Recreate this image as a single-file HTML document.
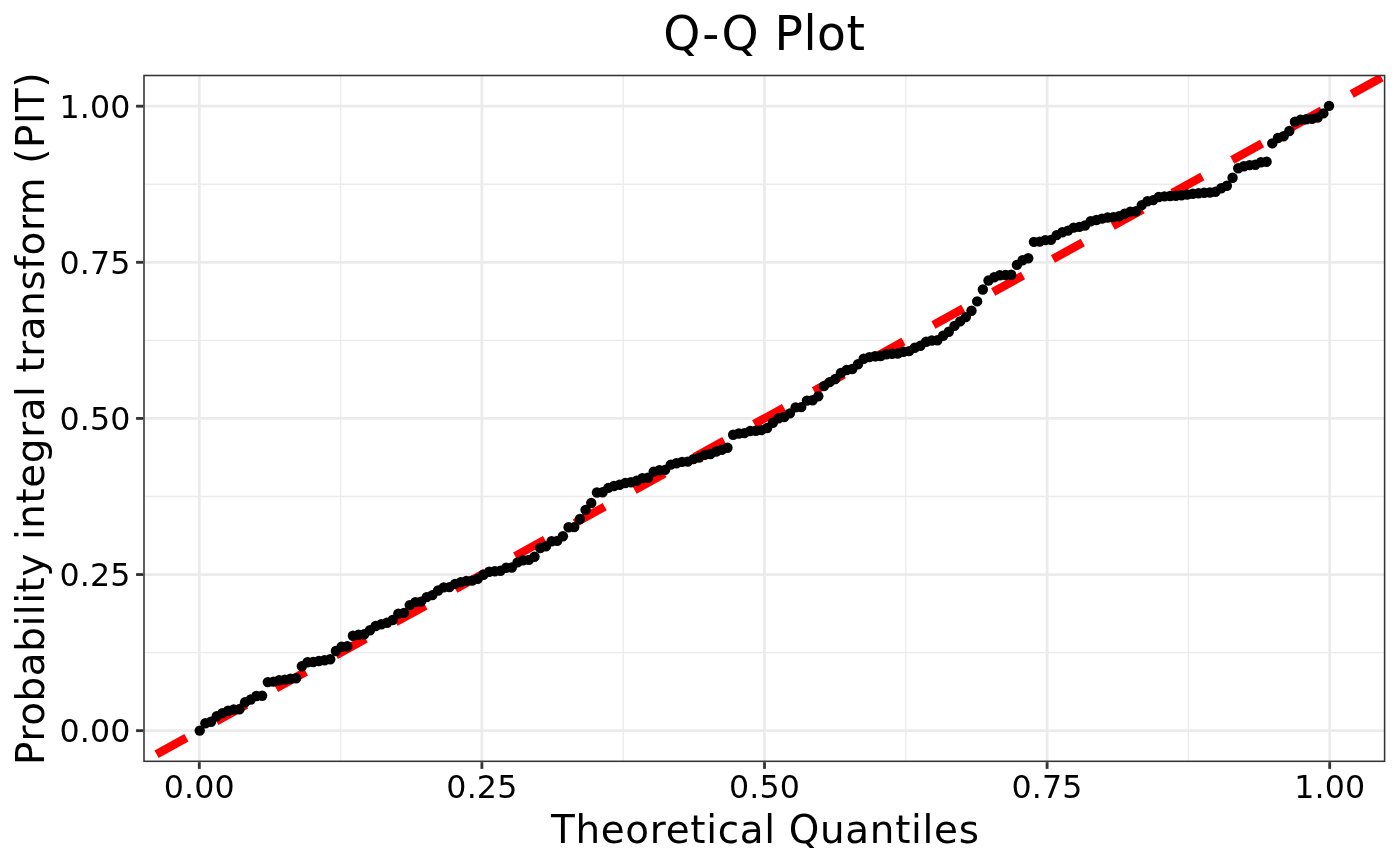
<!DOCTYPE html>
<html lang="en">
<head>
<meta charset="utf-8">
<title>Q-Q Plot</title>
<style>
html,body{margin:0;padding:0;background:#fff;}
body{width:1400px;height:866px;overflow:hidden;}
svg{display:block;}
text{font-family:"DejaVu Sans", "Liberation Sans", sans-serif;fill:#000;}
.tick{font-size:31.7px;letter-spacing:0.13px;}
.axt{font-size:38.9px;}
.ttl{font-size:47.2px;letter-spacing:0.49px;}
.xt{letter-spacing:0.675px;}
.yt{letter-spacing:0.577px;}
</style>
</head>
<body>
<svg width="1400" height="866" viewBox="0 0 1400 866">
<rect x="0" y="0" width="1400" height="866" fill="#ffffff"/>
<defs><clipPath id="panel"><rect x="144.00" y="75.50" width="1240.60" height="685.80"/></clipPath></defs>
<g clip-path="url(#panel)">
<g stroke="#ebebeb" stroke-width="1.3" fill="none">
<line x1="340.60" y1="75.50" x2="340.60" y2="761.30"/>
<line x1="144.00" y1="652.59" x2="1384.60" y2="652.59"/>
<line x1="623.20" y1="75.50" x2="623.20" y2="761.30"/>
<line x1="144.00" y1="496.48" x2="1384.60" y2="496.48"/>
<line x1="905.80" y1="75.50" x2="905.80" y2="761.30"/>
<line x1="144.00" y1="340.37" x2="1384.60" y2="340.37"/>
<line x1="1188.40" y1="75.50" x2="1188.40" y2="761.30"/>
<line x1="144.00" y1="184.26" x2="1384.60" y2="184.26"/>
</g>
<g stroke="#ebebeb" stroke-width="2.75" fill="none">
<line x1="199.30" y1="75.50" x2="199.30" y2="761.30"/>
<line x1="144.00" y1="730.65" x2="1384.60" y2="730.65"/>
<line x1="481.90" y1="75.50" x2="481.90" y2="761.30"/>
<line x1="144.00" y1="574.54" x2="1384.60" y2="574.54"/>
<line x1="764.50" y1="75.50" x2="764.50" y2="761.30"/>
<line x1="144.00" y1="418.43" x2="1384.60" y2="418.43"/>
<line x1="1047.10" y1="75.50" x2="1047.10" y2="761.30"/>
<line x1="144.00" y1="262.31" x2="1384.60" y2="262.31"/>
<line x1="1329.70" y1="75.50" x2="1329.70" y2="761.30"/>
<line x1="144.00" y1="106.20" x2="1384.60" y2="106.20"/>
</g>
<line x1="156.57" y1="754.20" x2="1400.00" y2="67.31" stroke="#ff0000" stroke-width="8.5" stroke-dasharray="34.1 34.17" fill="none"/>
<g fill="#000000">
<circle cx="199.70" cy="730.6" r="5.2"/>
<circle cx="205.38" cy="723.3" r="5.2"/>
<circle cx="211.05" cy="721.8" r="5.2"/>
<circle cx="216.72" cy="716.3" r="5.2"/>
<circle cx="222.40" cy="713.1" r="5.2"/>
<circle cx="228.07" cy="710.7" r="5.2"/>
<circle cx="233.75" cy="709.5" r="5.2"/>
<circle cx="239.42" cy="709.3" r="5.2"/>
<circle cx="245.10" cy="702.2" r="5.2"/>
<circle cx="250.77" cy="699.5" r="5.2"/>
<circle cx="256.45" cy="696.0" r="5.2"/>
<circle cx="262.12" cy="695.8" r="5.2"/>
<circle cx="267.80" cy="682.1" r="5.2"/>
<circle cx="273.47" cy="681.6" r="5.2"/>
<circle cx="279.15" cy="680.3" r="5.2"/>
<circle cx="284.82" cy="679.6" r="5.2"/>
<circle cx="290.50" cy="678.8" r="5.2"/>
<circle cx="296.17" cy="678.3" r="5.2"/>
<circle cx="301.85" cy="666.3" r="5.2"/>
<circle cx="307.52" cy="662.3" r="5.2"/>
<circle cx="313.20" cy="662.0" r="5.2"/>
<circle cx="318.88" cy="661.0" r="5.2"/>
<circle cx="324.55" cy="660.2" r="5.2"/>
<circle cx="330.23" cy="659.3" r="5.2"/>
<circle cx="335.90" cy="651.0" r="5.2"/>
<circle cx="341.57" cy="646.8" r="5.2"/>
<circle cx="347.25" cy="646.3" r="5.2"/>
<circle cx="352.92" cy="635.7" r="5.2"/>
<circle cx="358.60" cy="634.7" r="5.2"/>
<circle cx="364.27" cy="634.2" r="5.2"/>
<circle cx="369.95" cy="630.2" r="5.2"/>
<circle cx="375.62" cy="626.0" r="5.2"/>
<circle cx="381.30" cy="624.2" r="5.2"/>
<circle cx="386.98" cy="622.7" r="5.2"/>
<circle cx="392.65" cy="620.0" r="5.2"/>
<circle cx="398.32" cy="613.6" r="5.2"/>
<circle cx="404.00" cy="612.9" r="5.2"/>
<circle cx="409.67" cy="605.1" r="5.2"/>
<circle cx="415.35" cy="602.1" r="5.2"/>
<circle cx="421.02" cy="601.6" r="5.2"/>
<circle cx="426.70" cy="597.1" r="5.2"/>
<circle cx="432.38" cy="595.1" r="5.2"/>
<circle cx="438.05" cy="590.5" r="5.2"/>
<circle cx="443.73" cy="587.4" r="5.2"/>
<circle cx="449.40" cy="587.1" r="5.2"/>
<circle cx="455.07" cy="583.9" r="5.2"/>
<circle cx="460.75" cy="582.1" r="5.2"/>
<circle cx="466.42" cy="580.9" r="5.2"/>
<circle cx="472.10" cy="580.6" r="5.2"/>
<circle cx="477.77" cy="578.8" r="5.2"/>
<circle cx="483.45" cy="574.8" r="5.2"/>
<circle cx="489.12" cy="571.8" r="5.2"/>
<circle cx="494.80" cy="571.3" r="5.2"/>
<circle cx="500.47" cy="570.8" r="5.2"/>
<circle cx="506.15" cy="567.8" r="5.2"/>
<circle cx="511.82" cy="567.5" r="5.2"/>
<circle cx="517.50" cy="562.4" r="5.2"/>
<circle cx="523.17" cy="560.2" r="5.2"/>
<circle cx="528.85" cy="559.9" r="5.2"/>
<circle cx="534.52" cy="556.7" r="5.2"/>
<circle cx="540.20" cy="548.0" r="5.2"/>
<circle cx="545.88" cy="546.4" r="5.2"/>
<circle cx="551.55" cy="541.2" r="5.2"/>
<circle cx="557.22" cy="540.9" r="5.2"/>
<circle cx="562.90" cy="536.3" r="5.2"/>
<circle cx="568.58" cy="527.3" r="5.2"/>
<circle cx="574.25" cy="527.1" r="5.2"/>
<circle cx="579.92" cy="519.0" r="5.2"/>
<circle cx="585.60" cy="509.9" r="5.2"/>
<circle cx="591.27" cy="503.0" r="5.2"/>
<circle cx="596.95" cy="492.5" r="5.2"/>
<circle cx="602.62" cy="492.2" r="5.2"/>
<circle cx="608.30" cy="487.9" r="5.2"/>
<circle cx="613.97" cy="486.0" r="5.2"/>
<circle cx="619.65" cy="484.7" r="5.2"/>
<circle cx="625.33" cy="483.0" r="5.2"/>
<circle cx="631.00" cy="482.2" r="5.2"/>
<circle cx="636.67" cy="480.7" r="5.2"/>
<circle cx="642.35" cy="478.1" r="5.2"/>
<circle cx="648.02" cy="477.8" r="5.2"/>
<circle cx="653.70" cy="471.6" r="5.2"/>
<circle cx="659.38" cy="470.2" r="5.2"/>
<circle cx="665.05" cy="469.9" r="5.2"/>
<circle cx="670.72" cy="464.6" r="5.2"/>
<circle cx="676.40" cy="463.3" r="5.2"/>
<circle cx="682.08" cy="461.9" r="5.2"/>
<circle cx="687.75" cy="461.6" r="5.2"/>
<circle cx="693.42" cy="459.1" r="5.2"/>
<circle cx="699.10" cy="457.6" r="5.2"/>
<circle cx="704.77" cy="454.9" r="5.2"/>
<circle cx="710.45" cy="454.0" r="5.2"/>
<circle cx="716.12" cy="451.5" r="5.2"/>
<circle cx="721.80" cy="449.8" r="5.2"/>
<circle cx="727.47" cy="447.8" r="5.2"/>
<circle cx="733.15" cy="434.8" r="5.2"/>
<circle cx="738.83" cy="433.5" r="5.2"/>
<circle cx="744.50" cy="433.1" r="5.2"/>
<circle cx="750.17" cy="431.0" r="5.2"/>
<circle cx="755.85" cy="430.7" r="5.2"/>
<circle cx="761.52" cy="430.1" r="5.2"/>
<circle cx="767.20" cy="428.0" r="5.2"/>
<circle cx="772.88" cy="422.7" r="5.2"/>
<circle cx="778.55" cy="418.2" r="5.2"/>
<circle cx="784.22" cy="417.0" r="5.2"/>
<circle cx="789.90" cy="413.4" r="5.2"/>
<circle cx="795.58" cy="407.4" r="5.2"/>
<circle cx="801.25" cy="407.1" r="5.2"/>
<circle cx="806.92" cy="400.6" r="5.2"/>
<circle cx="812.60" cy="400.3" r="5.2"/>
<circle cx="818.27" cy="396.3" r="5.2"/>
<circle cx="823.95" cy="386.1" r="5.2"/>
<circle cx="829.62" cy="382.1" r="5.2"/>
<circle cx="835.30" cy="379.0" r="5.2"/>
<circle cx="840.97" cy="373.0" r="5.2"/>
<circle cx="846.65" cy="370.0" r="5.2"/>
<circle cx="852.33" cy="369.0" r="5.2"/>
<circle cx="858.00" cy="364.3" r="5.2"/>
<circle cx="863.67" cy="358.8" r="5.2"/>
<circle cx="869.35" cy="357.1" r="5.2"/>
<circle cx="875.02" cy="356.3" r="5.2"/>
<circle cx="880.70" cy="356.0" r="5.2"/>
<circle cx="886.38" cy="354.3" r="5.2"/>
<circle cx="892.05" cy="353.8" r="5.2"/>
<circle cx="897.72" cy="353.5" r="5.2"/>
<circle cx="903.40" cy="351.8" r="5.2"/>
<circle cx="909.08" cy="351.1" r="5.2"/>
<circle cx="914.75" cy="347.7" r="5.2"/>
<circle cx="920.42" cy="345.7" r="5.2"/>
<circle cx="926.10" cy="341.7" r="5.2"/>
<circle cx="931.77" cy="340.5" r="5.2"/>
<circle cx="937.45" cy="340.2" r="5.2"/>
<circle cx="943.12" cy="335.7" r="5.2"/>
<circle cx="948.80" cy="331.7" r="5.2"/>
<circle cx="954.47" cy="325.9" r="5.2"/>
<circle cx="960.15" cy="321.4" r="5.2"/>
<circle cx="965.83" cy="317.1" r="5.2"/>
<circle cx="971.50" cy="310.8" r="5.2"/>
<circle cx="977.17" cy="301.4" r="5.2"/>
<circle cx="982.85" cy="289.5" r="5.2"/>
<circle cx="988.52" cy="280.5" r="5.2"/>
<circle cx="994.20" cy="277.3" r="5.2"/>
<circle cx="999.88" cy="275.2" r="5.2"/>
<circle cx="1005.55" cy="275.0" r="5.2"/>
<circle cx="1011.22" cy="274.8" r="5.2"/>
<circle cx="1016.90" cy="264.9" r="5.2"/>
<circle cx="1022.58" cy="260.2" r="5.2"/>
<circle cx="1028.25" cy="258.2" r="5.2"/>
<circle cx="1033.92" cy="241.9" r="5.2"/>
<circle cx="1039.60" cy="241.6" r="5.2"/>
<circle cx="1045.27" cy="240.1" r="5.2"/>
<circle cx="1050.95" cy="239.9" r="5.2"/>
<circle cx="1056.62" cy="235.1" r="5.2"/>
<circle cx="1062.30" cy="232.3" r="5.2"/>
<circle cx="1067.97" cy="230.6" r="5.2"/>
<circle cx="1073.65" cy="227.6" r="5.2"/>
<circle cx="1079.33" cy="226.9" r="5.2"/>
<circle cx="1085.00" cy="225.5" r="5.2"/>
<circle cx="1090.67" cy="221.2" r="5.2"/>
<circle cx="1096.35" cy="220.0" r="5.2"/>
<circle cx="1102.02" cy="218.6" r="5.2"/>
<circle cx="1107.70" cy="217.5" r="5.2"/>
<circle cx="1113.38" cy="217.1" r="5.2"/>
<circle cx="1119.05" cy="216.3" r="5.2"/>
<circle cx="1124.72" cy="213.8" r="5.2"/>
<circle cx="1130.40" cy="211.6" r="5.2"/>
<circle cx="1136.08" cy="211.3" r="5.2"/>
<circle cx="1141.75" cy="205.1" r="5.2"/>
<circle cx="1147.42" cy="201.3" r="5.2"/>
<circle cx="1153.10" cy="200.1" r="5.2"/>
<circle cx="1158.77" cy="197.0" r="5.2"/>
<circle cx="1164.45" cy="196.4" r="5.2"/>
<circle cx="1170.12" cy="196.0" r="5.2"/>
<circle cx="1175.80" cy="195.7" r="5.2"/>
<circle cx="1181.47" cy="195.2" r="5.2"/>
<circle cx="1187.15" cy="194.5" r="5.2"/>
<circle cx="1192.83" cy="193.7" r="5.2"/>
<circle cx="1198.50" cy="193.2" r="5.2"/>
<circle cx="1204.17" cy="192.7" r="5.2"/>
<circle cx="1209.85" cy="192.5" r="5.2"/>
<circle cx="1215.52" cy="191.7" r="5.2"/>
<circle cx="1221.20" cy="188.2" r="5.2"/>
<circle cx="1226.88" cy="185.7" r="5.2"/>
<circle cx="1232.55" cy="177.7" r="5.2"/>
<circle cx="1238.22" cy="168.2" r="5.2"/>
<circle cx="1243.90" cy="166.3" r="5.2"/>
<circle cx="1249.58" cy="165.1" r="5.2"/>
<circle cx="1255.25" cy="164.8" r="5.2"/>
<circle cx="1260.92" cy="162.3" r="5.2"/>
<circle cx="1266.60" cy="161.8" r="5.2"/>
<circle cx="1272.28" cy="143.4" r="5.2"/>
<circle cx="1277.95" cy="138.0" r="5.2"/>
<circle cx="1283.62" cy="136.2" r="5.2"/>
<circle cx="1289.30" cy="131.0" r="5.2"/>
<circle cx="1294.97" cy="121.6" r="5.2"/>
<circle cx="1300.65" cy="119.6" r="5.2"/>
<circle cx="1306.33" cy="119.3" r="5.2"/>
<circle cx="1312.00" cy="118.9" r="5.2"/>
<circle cx="1317.67" cy="117.6" r="5.2"/>
<circle cx="1323.35" cy="113.4" r="5.2"/>
<circle cx="1329.03" cy="105.9" r="5.2"/>
</g>
</g>
<rect x="144.00" y="75.50" width="1240.60" height="685.80" fill="none" stroke="#333333" stroke-width="1.55"/>
<g stroke="#333333" stroke-width="2.85" fill="none">
<line x1="199.30" y1="762.20" x2="199.30" y2="768.90"/>
<line x1="136.10" y1="730.65" x2="143.20" y2="730.65"/>
<line x1="481.90" y1="762.20" x2="481.90" y2="768.90"/>
<line x1="136.10" y1="574.54" x2="143.20" y2="574.54"/>
<line x1="764.50" y1="762.20" x2="764.50" y2="768.90"/>
<line x1="136.10" y1="418.43" x2="143.20" y2="418.43"/>
<line x1="1047.10" y1="762.20" x2="1047.10" y2="768.90"/>
<line x1="136.10" y1="262.31" x2="143.20" y2="262.31"/>
<line x1="1329.70" y1="762.20" x2="1329.70" y2="768.90"/>
<line x1="136.10" y1="106.20" x2="143.20" y2="106.20"/>
</g>
<text class="tick" x="199.30" y="797.70" text-anchor="middle">0.00</text>
<text class="tick" x="130.50" y="742.25" text-anchor="end">0.00</text>
<text class="tick" x="481.90" y="797.70" text-anchor="middle">0.25</text>
<text class="tick" x="130.50" y="586.14" text-anchor="end">0.25</text>
<text class="tick" x="764.50" y="797.70" text-anchor="middle">0.50</text>
<text class="tick" x="130.50" y="430.03" text-anchor="end">0.50</text>
<text class="tick" x="1047.10" y="797.70" text-anchor="middle">0.75</text>
<text class="tick" x="130.50" y="273.91" text-anchor="end">0.75</text>
<text class="tick" x="1329.70" y="797.70" text-anchor="middle">1.00</text>
<text class="tick" x="130.50" y="117.80" text-anchor="end">1.00</text>
<text class="axt xt" x="765.30" y="843.00" text-anchor="middle">Theoretical Quantiles</text>
<text class="axt yt" transform="translate(43.90 418.40) rotate(-90)" text-anchor="middle">Probability integral transform (PIT)</text>
<text class="ttl" x="764.30" y="49.60" text-anchor="middle">Q-Q Plot</text>
</svg>
</body>
</html>
